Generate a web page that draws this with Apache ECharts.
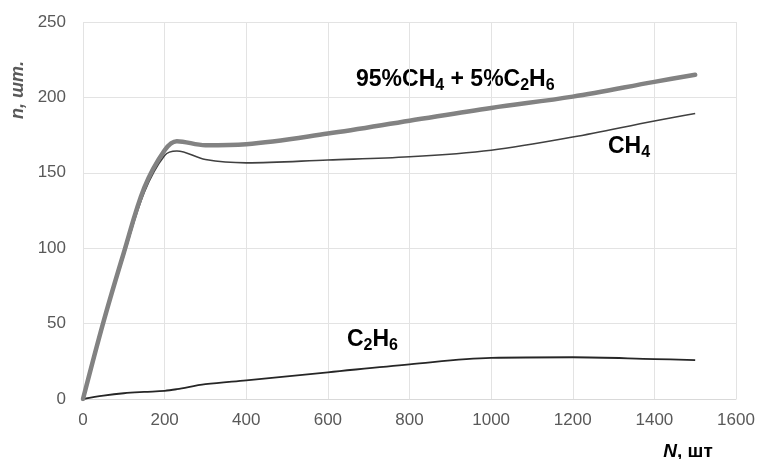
<!DOCTYPE html>
<html>
<head>
<meta charset="utf-8">
<script src="https://cdn.jsdelivr.net/npm/echarts@6/dist/echarts.min.js"></script>
<style>
html,body{margin:0;padding:0;background:#fff;}
#chart{width:760px;height:459px;}
</style>
</head>
<body>
<div id="chart"></div>
<script>
// Data
const N_VALUES = [0, 50, 100, 150, 200, 230, 300, 400, 600, 800, 1000, 1200, 1400, 1500];
const MIX_VALUES = [0, 51, 97, 140, 165, 171, 168.3, 169, 176, 184.5, 193, 200.5, 210.3, 215];
const CH4_VALUES = [0, 50, 95, 137, 161.5, 164.5, 158.8, 156.6, 158.5, 160.6, 165, 173.7, 184.4, 189.3];
const C2H6_VALUES = [0, 2.2, 3.8, 4.7, 5.4, 6.5, 9.8, 12.4, 17.7, 23, 27.3, 27.7, 26.5, 25.8];
const X_TICKS = { min: 0, max: 1600, interval: 200 };
const Y_TICKS = { min: 0, max: 250, interval: 50 };

const pairs = (vals) => N_VALUES.map((n, i) => [n, vals[i]]);

const FONT = '"Liberation Sans", Arial, sans-serif';
const richLabel = {
  b: { fontSize: 23, fontWeight: 'bold', fontFamily: FONT, color: '#1e1e1e', lineHeight: 28, verticalAlign: 'middle' },
  s: { fontSize: 16, fontWeight: 'bold', fontFamily: FONT, color: '#1e1e1e', lineHeight: 28, verticalAlign: 'bottom' }
};

const chart = echarts.init(document.getElementById('chart'), null, { renderer: 'canvas' });
chart.setOption({
  animation: false,
  backgroundColor: '#ffffff',
  grid: { left: 83, right: 24, top: 22, bottom: 60 },
  xAxis: {
    type: 'value', min: X_TICKS.min, max: X_TICKS.max, interval: X_TICKS.interval,
    axisLine: { show: true, lineStyle: { color: '#d9d9d9', width: 1 } },
    axisTick: { show: false },
    splitLine: { show: true, lineStyle: { color: '#e3e3e3', width: 1 } },
    axisLabel: { color: '#595959', fontSize: 17, fontFamily: FONT, margin: 13, formatter: (v) => String(v) }
  },
  yAxis: {
    type: 'value', min: Y_TICKS.min, max: Y_TICKS.max, interval: Y_TICKS.interval,
    axisLine: { show: false },
    axisTick: { show: false },
    splitLine: { show: true, lineStyle: { color: '#e3e3e3', width: 1 } },
    axisLabel: { color: '#595959', fontSize: 17, fontFamily: FONT, margin: 17, formatter: (v) => String(v) }
  },
  series: [
    { name: 'C2H6', type: 'line', data: pairs(C2H6_VALUES), smooth: 0.35, symbol: 'none',
      lineStyle: { color: '#262626', width: 1.8 } },
    { name: 'CH4', type: 'line', data: pairs(CH4_VALUES), smooth: 0.35, symbol: 'none',
      lineStyle: { color: '#404040', width: 1.6 } },
    { name: '95%CH4 + 5%C2H6', type: 'line', data: pairs(MIX_VALUES), smooth: 0.35, symbol: 'none',
      lineStyle: { color: '#828282', width: 4.5, cap: 'round' } }
  ],
  graphic: [
    { type: 'text', left: 356, top: 68, silent: true,
      style: { text: '{b|95%CH}{s|4}{b| + 5%C}{s|2}{b|H}{s|6}', rich: richLabel } },
    { type: 'text', left: 608, top: 135, silent: true,
      style: { text: '{b|CH}{s|4}', rich: richLabel } },
    { type: 'text', left: 347, top: 328, silent: true,
      style: { text: '{b|C}{s|2}{b|H}{s|6}', rich: richLabel } },
    { type: 'text', x: 688, y: 452, silent: true,
      style: { text: '{i|N}{r|, шт}', align: 'center', verticalAlign: 'middle',
        rich: {
          i: { fontSize: 19, fontWeight: 'bold', fontStyle: 'italic', fontFamily: FONT, color: '#595959' },
          r: { fontSize: 19, fontWeight: 'bold', fontFamily: FONT, color: '#595959' }
        } } },
    { type: 'text', x: 18, y: 90, rotation: Math.PI / 2, silent: true,
      style: { text: 'n, шт.', align: 'center', verticalAlign: 'middle',
        fontSize: 18, fontWeight: 'bold', fontStyle: 'italic', fontFamily: FONT, fill: '#595959' } }
  ]
});
</script>
</body>
</html>
